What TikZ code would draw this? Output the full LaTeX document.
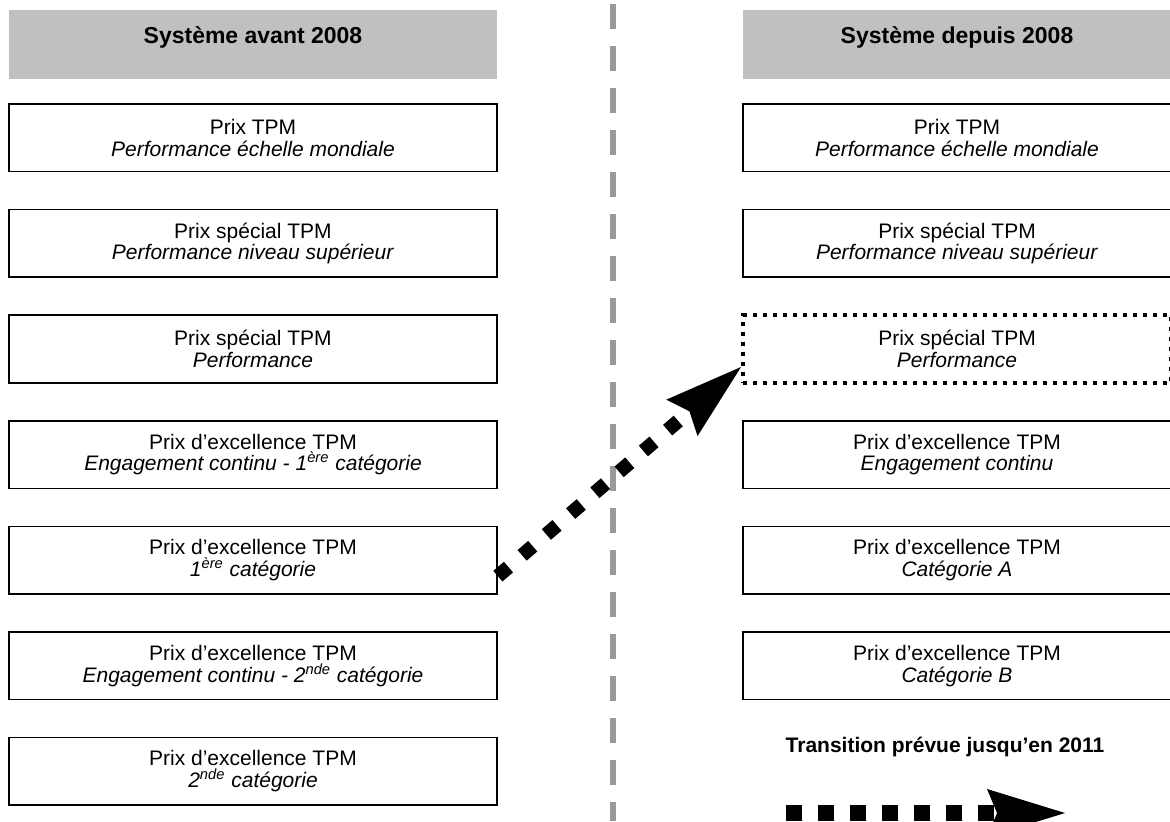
\documentclass[tikz,border=0pt]{standalone}
\usepackage{fontspec}
\setmainfont{Liberation Sans}
\usetikzlibrary{arrows.meta}
\definecolor{headgray}{HTML}{C0C0C0}
\definecolor{divgray}{HTML}{999999}
\tikzset{
	prixbox/.style={draw=black, line width=0.85pt, minimum height=33.8pt, inner sep=0pt, align=center, font=\fontsize{10.5}{10.9}\selectfont},
	prixdotted/.style={prixbox, line width=2pt, dash pattern=on 2pt off 3pt},
	headbox/.style={fill=headgray, minimum height=34.5pt, inner sep=0pt, text height=8.5pt, text depth=10pt, font=\fontsize{11.5}{13}\selectfont\bfseries},
	transarrow/.style={line width=7pt, dash pattern=on 7pt off 9pt, -{Stealth[length=39pt, width=24pt, inset=5pt, line width=0pt]}},
}

\begin{document}
\begin{tikzpicture}[x=0.5pt, y=-0.5pt]
	% Parameters
	\def\lx{253}
	\def\rx{957}
	\def\lw{244pt}
	\def\rw{214pt}
	\def\rowa{137.8}
	\def\rowstep{105.6}
	\def\divx{613}
	
	\useasboundingbox (0,0) rectangle (1170,821);
	
	%headers
	\node[headbox, minimum width=\lw] (hl) at (\lx,44.5) {Système avant 2008};
	\node[headbox, minimum width=\rw] (hr) at (\rx,44.5) {Système depuis 2008};
	
	%divider
	\draw[divgray, line width=3pt, dash pattern=on 12.5pt off 8.5pt] (\divx,4) -- (\divx,821);
	
	%left boxes
	\node[prixbox, minimum width=\lw] (l1) at (\lx,\rowa) {Prix TPM\\\textit{Performance échelle mondiale}};
	\node[prixbox, minimum width=\lw] (l2) at (\lx,\rowa+\rowstep) {Prix spécial TPM\\\textit{Performance niveau supérieur}};
	\node[prixbox, minimum width=\lw] (l3) at (\lx,\rowa+2*\rowstep) {Prix spécial TPM\\\textit{Performance}};
	\node[prixbox, minimum width=\lw] (l4) at (\lx,\rowa+3*\rowstep) {Prix d’excellence TPM\\\textit{Engagement continu - 1\textsuperscript{ère} catégorie}};
	\node[prixbox, minimum width=\lw] (l5) at (\lx,\rowa+4*\rowstep) {Prix d’excellence TPM\\\textit{1\textsuperscript{ère} catégorie}};
	\node[prixbox, minimum width=\lw] (l6) at (\lx,\rowa+5*\rowstep) {Prix d’excellence TPM\\\textit{Engagement continu - 2\textsuperscript{nde} catégorie}};
	\node[prixbox, minimum width=\lw] (l7) at (\lx,\rowa+6*\rowstep) {Prix d’excellence TPM\\\textit{2\textsuperscript{nde} catégorie}};
	
	%right boxes
	\node[prixbox, minimum width=\rw] (r1) at (\rx,\rowa) {Prix TPM\\\textit{Performance échelle mondiale}};
	\node[prixbox, minimum width=\rw] (r2) at (\rx,\rowa+\rowstep) {Prix spécial TPM\\\textit{Performance niveau supérieur}};
	\node[prixdotted, minimum width=\rw] (r3) at (\rx,\rowa+2*\rowstep) {Prix spécial TPM\\\textit{Performance}};
	\node[prixbox, minimum width=\rw] (r4) at (\rx,\rowa+3*\rowstep) {Prix d’excellence TPM\\\textit{Engagement continu}};
	\node[prixbox, minimum width=\rw] (r5) at (\rx,\rowa+4*\rowstep) {Prix d’excellence TPM\\\textit{Catégorie A}};
	\node[prixbox, minimum width=\rw] (r6) at (\rx,\rowa+5*\rowstep) {Prix d’excellence TPM\\\textit{Catégorie B}};
	
	%transition
	\draw[transarrow] ([yshift=-8pt]l5.east) -- ([yshift=-9pt]r3.west);
	
	%legend
	\node[anchor=base, font=\fontsize{10.5}{12}\selectfont\bfseries] (trans) at (945,752) {Transition prévue jusqu’en 2011};
	\coordinate (ta) at (786,813);
	\coordinate (tb) at (1065,813);
	\draw[transarrow, line width=8pt, dash pattern=on 8pt off 8pt] (ta) -- (tb);
	
\end{tikzpicture}
\end{document}
